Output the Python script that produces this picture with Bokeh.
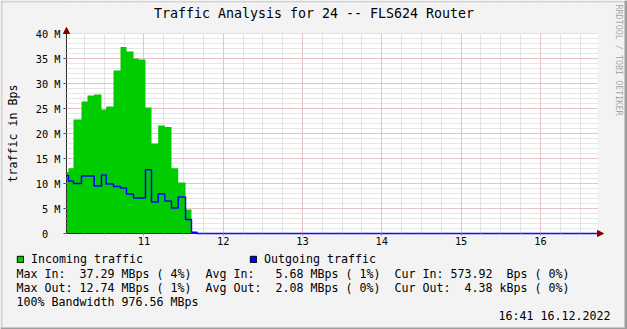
import math
import re
from bokeh.plotting import figure
from bokeh.models import (Range1d, SingleIntervalTicker, Legend, LegendItem,
                          Arrow, NormalHead, BoxAnnotation, Label)
from bokeh.embed import file_html
from bokeh.resources import INLINE

# ---------------- data ----------------
title_text = "Traffic Analysis for 24 -- FLS624 Router"
y_axis_label = "traffic in Bps"
watermark = "RRDTOOL / TOBI OETIKER"

# step edges, hours of day (interval i runs from time_edges[i] to time_edges[i+1])
time_edges = [10.024, 10.049, 10.112, 10.213, 10.289, 10.373, 10.465, 10.525,
              10.617, 10.705, 10.781, 10.869, 10.932, 11.020, 11.096, 11.180,
              11.264, 11.348, 11.433, 11.525, 11.600, 11.670, 16.720]
# values in millions of bytes per second
incoming = [12.3, 13.07, 22.8, 26.4, 27.6, 27.8, 24.8, 25.4, 32.6, 37.29, 36.4,
            35.0, 34.8, 25.2, 18.0, 21.6, 21.3, 13.07, 10.2, 4.8, 0.2, 0.0]
outgoing = [11.6, 10.5, 10.0, 11.5, 11.5, 9.5, 11.7, 9.9, 9.4, 9.1, 7.9,
            7.1, 7.1, 12.74, 6.3, 7.9, 6.5, 5.1, 7.3, 2.8, 0.27, 0.0]

y_tick_values = [0, 5, 10, 15, 20, 25, 30, 35, 40]
y_tick_labels = ["0\u00a0\u00a0", "5 M", "10 M", "15 M", "20 M", "25 M", "30 M", "35 M", "40 M"]

legend_labels = ["Incoming traffic", "Outgoing traffic"]
stat_lines = [
    "Max In:  37.29 MBps ( 4%)  Avg In:   5.68 MBps ( 1%)  Cur In: 573.92  Bps ( 0%)",
    "Max Out: 12.74 MBps ( 1%)  Avg Out:  2.08 MBps ( 0%)  Cur Out:  4.38 kBps ( 0%)",
    "100% Bandwidth 976.56 MBps",
]
timestamp = "16:41 16.12.2022"

# ---------------- styling ----------------
GREEN = "#00CC00"
BLUE = "#0000FF"
BACK = "#f3f3f3"
SHADE_A = "#d4d4d4"
SHADE_B = "#9e9e9e"
FONT = "DejaVu Sans Mono"
TEXT_SIZE = "11.63px"
CHAR_W = 7.0
ARROW_C = "#8b0000"
W, H = 627, 329
PX_PER_HOUR = 79.3
PX_PER_UNIT = 5.0
CANVAS_LEFT, CANVAS_BOTTOM = 66, 233     # pixel position of the data canvas corner

x0, x1 = time_edges[0], time_edges[-1]
y0, y1 = 0, 40

# the frame covers the whole picture; the data canvas sits inside it
xs = x0 - CANVAS_LEFT / PX_PER_HOUR
ys = y0 - (H - CANVAS_BOTTOM) / PX_PER_UNIT
xe = xs + W / PX_PER_HOUR
ye = ys + H / PX_PER_UNIT
xr = Range1d(xs, xe)
yr = Range1d(ys, ye)

p = figure(width=W, height=H, x_range=xr, y_range=yr, output_backend="svg",
           toolbar_location=None, min_border=0,
           background_fill_color="white", border_fill_color=BACK,
           outline_line_color=None)

# grid
p.xaxis.ticker = SingleIntervalTicker(interval=1, num_minor_ticks=4)
p.yaxis.ticker = SingleIntervalTicker(interval=5, num_minor_ticks=5)
p.xgrid.bounds = (x0, x1)
p.ygrid.bounds = (y0, y1)
for g in (p.xgrid[0], p.ygrid[0]):
    g.grid_line_color = "#e8a0a0"
    g.grid_line_dash = "1 1"
    g.minor_grid_line_color = "#cccccc"
    g.minor_grid_line_dash = "1 1"

# grey surroundings of the white data canvas (also hide grid overhang)
for kw in (dict(bottom=y1), dict(top=y0), dict(right=x0), dict(left=x1)):
    p.add_layout(BoxAnnotation(fill_color=BACK, fill_alpha=1, line_color=None,
                               level="underlay", **kw))

# shaded picture border: light top/left, dark bottom/right
for kw, col in ((dict(right=xs + 2 / PX_PER_HOUR), SHADE_A),
                (dict(bottom=ye - 2 / PX_PER_UNIT), SHADE_A),
                (dict(left=xe - 3 / PX_PER_HOUR), SHADE_B),
                (dict(top=ys + 2 / PX_PER_UNIT), SHADE_B)):
    p.add_layout(BoxAnnotation(fill_color=col, fill_alpha=1, line_color=None,
                               level="annotation", **kw))

# series
y_in = incoming + [incoming[-1]]
y_out = outgoing + [outgoing[-1]]
p.varea_step(x=time_edges, y1=[0] * len(time_edges), y2=y_in, step_mode="after",
             fill_color=GREEN)
p.step(x=time_edges, y=y_out, mode="after", line_color=BLUE, line_width=1.5)

# axes, drawn at the data canvas edges
xa, ya = p.xaxis[0], p.yaxis[0]
xa.fixed_location = y0
ya.fixed_location = x0
xa.bounds = (x0, x1)
ya.bounds = (y0, y1)
ya.major_label_overrides = {v: s for v, s in zip(y_tick_values, y_tick_labels)}
for ax in (xa, ya):
    ax.axis_line_color = "#2a2a2a"
    ax.major_tick_in = 0
    ax.minor_tick_in = 0
    ax.minor_tick_out = 1
    ax.minor_tick_line_color = "#aaaaaa"
    ax.major_label_text_font = FONT
    ax.major_label_text_font_size = "10.3px"
    ax.major_label_text_color = "black"
ya.major_tick_out = 3
ya.major_tick_line_color = "#444444"
ya.major_label_standoff = 3
xa.major_tick_out = 2
xa.major_tick_line_color = "#cc5555"
xa.major_label_standoff = 1

# arrows at axis ends
p.add_layout(Arrow(end=NormalHead(size=6, fill_color=ARROW_C, line_color=ARROW_C),
                   x_start=x1, y_start=y0, x_end=x1 + 6 / PX_PER_HOUR, y_end=y0,
                   line_color=ARROW_C))
p.add_layout(Arrow(end=NormalHead(size=6, fill_color=ARROW_C, line_color=ARROW_C),
                   x_start=x0, y_start=y1, x_end=x0, y_end=y1 + 6 / PX_PER_UNIT,
                   line_color=ARROW_C))


def add_text(cx, cy, text, size=TEXT_SIZE, align="left", angle=0.0, color="black"):
    """cx, cy: pixel position from the picture's top-left corner."""
    p.add_layout(Label(x=cx, y=H - cy, x_units="screen", y_units="screen",
                       text=text, text_font=FONT, text_font_size=size,
                       text_align=align, text_baseline="middle", angle=angle,
                       text_color=color))


add_text(313.5, 13, title_text, size="13.3px", align="center")
add_text(12, 133, y_axis_label, align="center", angle=math.pi / 2)
add_text(618, 59.5, watermark, size="8.4px", align="center", angle=-math.pi / 2,
         color="#a8a8a8")
# monospaced statistics: each run of text is placed at its character column
for i, line in enumerate(stat_lines):
    for m in re.finditer(r"\S+(?: \S+)*", line):
        add_text(16 + m.start() * CHAR_W, 273 + 14 * i, m.group())
add_text(610, 315, timestamp, align="right")

# legend (proxy renderers hold one NaN row so only the legend swatch shows)
nan = float("nan")
r_in_leg = p.quad(left=[nan], right=[nan], top=[nan], bottom=[nan],
                  fill_color=GREEN, line_color="black")
r_out_leg = p.quad(left=[nan], right=[nan], top=[nan], bottom=[nan],
                   fill_color=BLUE, line_color="black")
legend = Legend(items=[LegendItem(label=legend_labels[0], renderers=[r_in_leg]),
                       LegendItem(label=legend_labels[1], renderers=[r_out_leg])],
                orientation="horizontal", location=(16, H - 266),
                glyph_width=8, glyph_height=8, label_standoff=7, spacing=106,
                padding=0, margin=0, border_line_color=None, background_fill_alpha=0,
                label_text_font=FONT, label_text_font_size=TEXT_SIZE,
                label_text_color="black", label_height=14, label_width=112)
p.add_layout(legend)

open("out.html", "w").write(file_html(p, INLINE))
